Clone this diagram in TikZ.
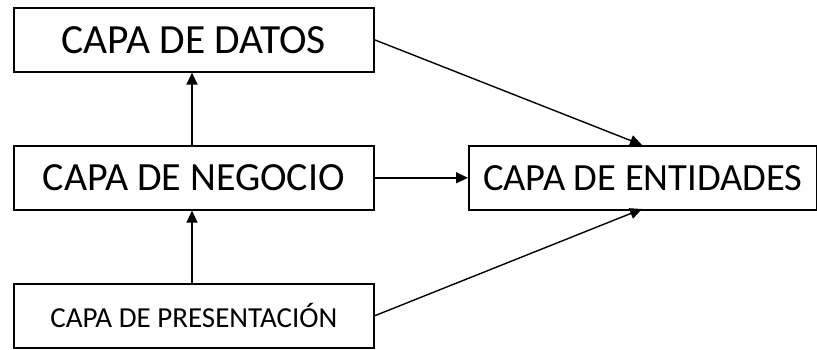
\documentclass[tikz,border=0pt]{standalone}
\usepackage{fontspec}
\setmainfont{Carlito}
\usetikzlibrary{arrows.meta}
\begin{document}
\begin{tikzpicture}[x=1pt,y=-1pt,
  layer/.style={draw,line width=1.6pt,inner sep=0pt,anchor=north west,minimum height=64pt},
  conn/.style={line width=1.4pt,-{Triangle[length=12pt,width=11pt]}}]
\useasboundingbox (0,0) rectangle (817,349);
\node[layer,minimum width=360pt,font=\fontsize{41.5}{44}\selectfont] (datos) at (13,7) {CAPA DE DATOS};
\node[layer,minimum width=360pt,font=\fontsize{40}{42}\selectfont] (negocio) at (13,145) {CAPA DE NEGOCIO};
\node[layer,minimum width=360pt,font=\fontsize{29}{31}\selectfont] (pres) at (13,283) {CAPA DE PRESENTACIÓN};
\node[layer,minimum width=348pt,font=\fontsize{38.5}{41}\selectfont] (ent) at (468,145) {CAPA DE ENTIDADES};
\coordinate (entT) at (642,145);
\coordinate (entB) at (642,209);
\draw[conn] (negocio.north -| 192,0) -- (datos.south -| 192,0);
\draw[conn] (pres.north -| 192,0) -- (negocio.south -| 192,0);
\draw[conn] (negocio.east) -- (ent.west);
\draw[conn] (datos.east) -- (entT);
\draw[conn] (pres.east) -- (entB);
\end{tikzpicture}
\end{document}
